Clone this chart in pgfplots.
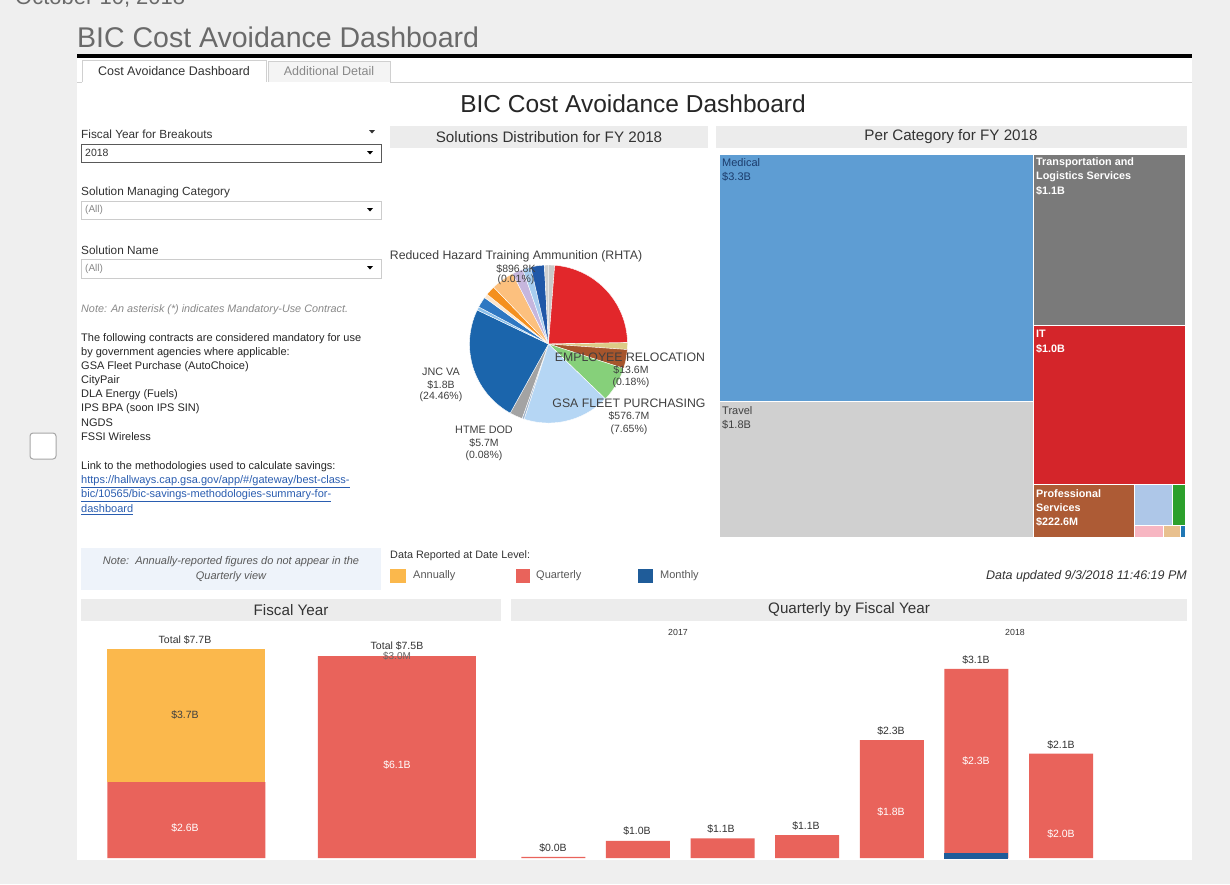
\documentclass[border=0pt]{standalone}
\usepackage{fontspec}
\setmainfont{Liberation Sans}
\usepackage{pgfplots}
\pgfplotsset{compat=1.18}
\newcommand{\fs}[1]{\fontsize{#1}{#1}\selectfont}
\definecolor{bgout}{HTML}{EFEFEF}
\definecolor{hdr}{HTML}{ECECEC}
\definecolor{titlegray}{HTML}{6A6A6A}
\definecolor{txt}{HTML}{333333}
\definecolor{lighttxt}{HTML}{888888}
\definecolor{linkblue}{HTML}{2A5DB0}
\definecolor{notebg}{HTML}{EEF3FA}
\definecolor{tabborder}{HTML}{D0D0D0}
\definecolor{tabinactive}{HTML}{F4F4F4}
\definecolor{annual}{HTML}{FBB84C}
\definecolor{qred}{HTML}{E9635B}
\definecolor{mblue}{HTML}{1F5C99}
\definecolor{medblue}{HTML}{5E9DD3}
\definecolor{travel}{HTML}{D0D0D0}
\definecolor{transp}{HTML}{7A7A7A}
\definecolor{itred}{HTML}{D4252A}
\definecolor{prof}{HTML}{AD5B35}
\definecolor{tlblue}{HTML}{AEC7E8}
\definecolor{tgreen}{HTML}{2CA02C}
\definecolor{tpink}{HTML}{F7B6C2}
\definecolor{ttan}{HTML}{E8C08E}
\definecolor{tdblue}{HTML}{1F77B4}
\definecolor{mednavy}{HTML}{1C3C6C}
% pie colours
\definecolor{pA}{HTML}{C9C9C9}
\definecolor{pB}{HTML}{E2272B}
\definecolor{pC}{HTML}{DCCB86}
\definecolor{pD}{HTML}{A6552C}
\definecolor{pE}{HTML}{86D07A}
\definecolor{pF}{HTML}{B5D6F4}
\definecolor{pG}{HTML}{9FB4CC}
\definecolor{pH}{HTML}{A3A3A3}
\definecolor{pI}{HTML}{1B65AC}
\definecolor{pJ}{HTML}{8CC0EA}
\definecolor{pK}{HTML}{2F78C2}
\definecolor{pL}{HTML}{FDE6CC}
\definecolor{pM}{HTML}{F4901F}
\definecolor{pN}{HTML}{FCC07E}
\definecolor{pO}{HTML}{C6B6DD}
\definecolor{pP}{HTML}{A8CDEF}
\definecolor{pQ}{HTML}{2058A8}
\definecolor{pR}{HTML}{D0D0D0}
% one pie slice: colour, start angle, end angle (degrees clockwise from 12 o'clock)
\newcommand{\slice}[3]{\addplot[fill=#1, draw=white, line width=0.4pt, domain=#2:#3, samples=40, variable=\t] ({sin(\t)},{cos(\t)}) -- (axis cs:0,0) -- cycle;}
\tikzset{px/.style={x=1pt,y=1pt}}
\begin{document}
\begin{tikzpicture}
\begin{scope}[px]
\useasboundingbox (0,0) rectangle (1230,-884);
\fill[bgout] (0,0) rectangle (1230,-884);
\node[anchor=base west, inner sep=0, text=titlegray] at (15,-4) {\fs{22}October 10, 2018};
\fill[white] (77,-58) rectangle (1192,-860);
% title
\node[anchor=base west, inner sep=0, text=titlegray] at (77,-47) {\fs{28.5}BIC Cost Avoidance Dashboard};
\fill[black] (77,-54) rectangle (1192,-57.5);
% tabs
\draw[tabborder] (77,-82) -- (82,-82);
\draw[tabborder, fill=white] (82,-82) -- (82,-60) -- (266,-60) -- (266,-82);
\node[text=txt] at (174,-71) {\fs{12.5}Cost Avoidance Dashboard};
\draw[tabborder, fill=tabinactive] (268,-82) -- (268,-61) -- (390,-61) -- (390,-82);
\node[text=lighttxt] at (329,-71) {\fs{12.5}Additional Detail};
\draw[tabborder] (390,-82) -- (1192,-82);
% checkbox
\draw[gray!70, fill=white, rounded corners=3pt, line width=1pt] (30,-433) rectangle (56,-459);
% inner title
\node[text=black!85] at (633,-104) {\fs{24.5}BIC Cost Avoidance Dashboard};
% filters
\node[anchor=west, inner sep=0, text=txt] at (81,-134) {\fs{11.8}Fiscal Year for Breakouts};
\fill[txt] (369,-130) -- (375,-130) -- (372,-133.5) -- cycle;
\draw[black!65, fill=white] (81,-144) rectangle (381,-162);
\node[anchor=west, inner sep=0, text=txt] at (85,-153) {\fs{10.5}2018};
\fill[black] (367,-151) -- (373,-151) -- (370,-154.5) -- cycle;
\node[anchor=west, inner sep=0, text=txt] at (81,-192) {\fs{11.8}Solution Managing Category};
\draw[black!20, fill=white] (81,-201) rectangle (381,-219);
\node[anchor=west, inner sep=0, text=lighttxt] at (85,-210) {\fs{10}(All)};
\fill[black] (367,-208) -- (373,-208) -- (370,-211.5) -- cycle;
\node[anchor=west, inner sep=0, text=txt] at (81,-250) {\fs{11.8}Solution Name};
\draw[black!20, fill=white] (81,-259) rectangle (381,-278);
\node[anchor=west, inner sep=0, text=lighttxt] at (85,-268.5) {\fs{10}(All)};
\fill[black] (367,-266) -- (373,-266) -- (370,-269.5) -- cycle;
\node[anchor=west, inner sep=0, text=lighttxt] at (81,-310) {\fs{10.8}\itshape Note: An asterisk (*) indicates Mandatory-Use Contract.};
\begin{scope}[every node/.style={anchor=west, inner sep=0, text=black!85}]
\node at (81,-339) {\fs{11}The following contracts are considered mandatory for use};
\node at (81,-353) {\fs{11}by government agencies where applicable:};
\node at (81,-367) {\fs{11}GSA Fleet Purchase (AutoChoice)};
\node at (81,-381) {\fs{11}CityPair};
\node at (81,-395) {\fs{11}DLA Energy (Fuels)};
\node at (81,-409) {\fs{11}IPS BPA (soon IPS SIN)};
\node at (81,-423) {\fs{11}NGDS};
\node at (81,-437) {\fs{11}FSSI Wireless};
\node at (81,-467) {\fs{11}Link to the methodologies used to calculate savings:};
\node[text=linkblue] at (81,-482) {\fs{11}\underline{https://hallways.cap.gsa.gov/app/\#/gateway/best-class-}};
\node[text=linkblue] at (81,-496) {\fs{11}\underline{bic/10565/bic-savings-methodologies-summary-for-}};
\node[text=linkblue] at (81,-510) {\fs{11}\underline{dashboard}};
\end{scope}
\fill[notebg] (81,-548) rectangle (381,-590);
\node[text=black!65] at (231,-562) {\fs{11}\itshape Note:\ \ Annually-reported figures do not appear in the};
\node[text=black!65] at (231,-577) {\fs{11}\itshape Quarterly view};
% headers
\fill[hdr] (390,-126) rectangle (708,-148);
\node[text=txt] at (549,-137) {\fs{15.2}Solutions Distribution for FY 2018};
\fill[hdr] (716,-126) rectangle (1187,-148);
\node[text=txt] at (951,-137) {\fs{15.2}Per Category for FY 2018};
\fill[hdr] (81,-599) rectangle (501,-621);
\node[text=txt] at (291,-610) {\fs{15.2}Fiscal Year};
\fill[hdr] (511,-599) rectangle (1187,-621);
\node[text=txt] at (849,-610) {\fs{15.2}Quarterly by Fiscal Year};
\node[text=txt] at (678,-632) {\fs{8.8}2017};
\node[text=txt] at (1015,-632) {\fs{8.8}2018};
% legend
\node[anchor=west, inner sep=0, text=txt] at (390,-556) {\fs{10.8}Data Reported at Date Level:};
\fill[annual] (390,-569) rectangle (406,-583);
\node[anchor=west, inner sep=0, text=black!65] at (413,-576) {\fs{11}Annually};
\fill[qred] (516,-569) rectangle (530,-583);
\node[anchor=west, inner sep=0, text=black!65] at (536,-576) {\fs{11}Quarterly};
\fill[mblue] (638,-569) rectangle (653,-583);
\node[anchor=west, inner sep=0, text=black!65] at (660,-576) {\fs{11}Monthly};
\node[anchor=east, inner sep=0, text=txt] at (1187,-576) {\fs{12.5}\itshape Data updated 9/3/2018 11:46:19 PM};
\end{scope}

% ---------------- pie ----------------
\begin{axis}[at={(469.5pt,-423pt)}, anchor=south west, width=158pt, height=158pt, scale only axis,
  hide axis, xmin=-1, xmax=1, ymin=-1, ymax=1, clip=false]
\slice{pA}{0}{4.5}
\slice{pB}{4.5}{89}
\slice{pC}{89}{94}
\slice{pD}{94}{108}
\slice{pE}{108}{134}
\slice{pF}{134}{198}
\slice{pG}{198}{199.5}
\slice{pH}{199.5}{209}
\slice{pI}{209}{295.5}
\slice{pJ}{295.5}{298}
\slice{pK}{298}{306}
\slice{pL}{306}{309}
\slice{pM}{309}{316}
\slice{pN}{316}{333}
\slice{pO}{333}{341}
\slice{pP}{341}{347}
\slice{pQ}{347}{357}
\slice{pR}{357}{360}
\end{axis}
\begin{scope}[px, every node/.style={text=black!75, inner sep=0}]
\node at (516,-256) {\fs{12.3}Reduced Hazard Training Ammunition (RHTA)};
\node at (516,-268.5) {\fs{10.5}\$896.8K};
\node at (516,-280) {\fs{10.5}(0.01\%)};
\node at (630,-357) {\fs{12.3}EMPLOYEE RELOCATION};
\node at (631,-370) {\fs{10.5}\$13.6M};
\node at (631,-383) {\fs{10.5}(0.18\%)};
\node at (629,-403) {\fs{12.3}GSA FLEET PURCHASING};
\node at (629,-416) {\fs{10.5}\$576.7M};
\node at (629,-430) {\fs{10.5}(7.65\%)};
\node at (441,-372) {\fs{10.8}JNC VA};
\node at (441,-385) {\fs{10.5}\$1.8B};
\node at (441,-397) {\fs{10.5}(24.46\%)};
\node at (484,-430) {\fs{10.8}HTME DOD};
\node at (484,-443) {\fs{10.5}\$5.7M};
\node at (484,-456) {\fs{10.5}(0.08\%)};
\end{scope}

% ---------------- treemap ----------------
\begin{axis}[at={(719pt,-537pt)}, anchor=south west, width=466pt, height=383pt, scale only axis,
  hide axis, xmin=0, xmax=466, ymin=0, ymax=383, clip=false]
\addplot[fill=medblue, draw=white, line width=1pt] coordinates {(0,136) (314,136) (314,383) (0,383)} -- cycle;
\addplot[fill=travel, draw=white, line width=1pt] coordinates {(0,0) (314,0) (314,136) (0,136)} -- cycle;
\addplot[fill=transp, draw=white, line width=1pt] coordinates {(314,212) (466,212) (466,383) (314,383)} -- cycle;
\addplot[fill=itred, draw=white, line width=1pt] coordinates {(314,53) (466,53) (466,212) (314,212)} -- cycle;
\addplot[fill=prof, draw=white, line width=1pt] coordinates {(314,0) (415,0) (415,53) (314,53)} -- cycle;
\addplot[fill=tlblue, draw=white, line width=0.6pt] coordinates {(415,12) (453,12) (453,53) (415,53)} -- cycle;
\addplot[fill=tgreen, draw=white, line width=0.6pt] coordinates {(453,12) (466,12) (466,53) (453,53)} -- cycle;
\addplot[fill=tpink, draw=white, line width=0.6pt] coordinates {(415,0) (444,0) (444,12) (415,12)} -- cycle;
\addplot[fill=ttan, draw=white, line width=0.6pt] coordinates {(444,0) (461,0) (461,12) (444,12)} -- cycle;
\addplot[fill=tdblue, draw=white, line width=0.6pt] coordinates {(461,0) (466,0) (466,12) (461,12)} -- cycle;
\end{axis}
\begin{scope}[px, every node/.style={anchor=west, inner sep=0}]
\node[text=mednavy] at (722,-163) {\fs{11}Medical};
\node[text=mednavy] at (722,-177) {\fs{11}\$3.3B};
\node[text=black!75] at (722,-411) {\fs{11}Travel};
\node[text=black!75] at (722,-425) {\fs{11}\$1.8B};
\node[text=white] at (1036,-163) {\fs{10.8}\bfseries Transportation and};
\node[text=white] at (1036,-177) {\fs{10.8}\bfseries Logistics Services};
\node[text=white] at (1036,-191) {\fs{10.8}\bfseries \$1.1B};
\node[text=white] at (1036,-334) {\fs{10.8}\bfseries IT};
\node[text=white] at (1036,-349) {\fs{10.8}\bfseries \$1.0B};
\node[text=white] at (1036,-494) {\fs{10.8}\bfseries Professional};
\node[text=white] at (1036,-508) {\fs{10.8}\bfseries Services};
\node[text=white] at (1036,-522) {\fs{10.8}\bfseries \$222.6M};
\end{scope}

% ---------------- fiscal year ----------------
\begin{axis}[at={(81pt,-858pt)}, anchor=south west, width=421pt, height=228pt, scale only axis,
  hide axis, xmin=-0.5, xmax=1.5, ymin=1.89, ymax=8.22, ybar stacked, bar width=158pt]
\addplot[fill=qred, draw=none] coordinates {(0,4.0) (1,7.497)};
\addplot[fill=mblue, draw=none] coordinates {(0,0) (1,0.003)};
\addplot[fill=annual, draw=none] coordinates {(0,3.7) (1,0)};
\end{axis}
\begin{scope}[px, every node/.style={inner sep=0}]
\node[text=black!80] at (185,-640) {\fs{10.5}Total \$7.7B};
\node[text=black!80] at (397,-646) {\fs{10.5}Total \$7.5B};
\node[text=black!60] at (397,-656) {\fs{10}\$3.0M};
\node[text=black!75] at (185,-715) {\fs{10.5}\$3.7B};
\node[text=white] at (185,-828) {\fs{10.5}\$2.6B};
\node[text=white] at (397,-765) {\fs{10.5}\$6.1B};
\end{scope}

% ---------------- quarterly ----------------
\begin{axis}[at={(511pt,-858pt)}, anchor=south west, width=677pt, height=218pt, scale only axis,
  hide axis, xmin=-0.5, xmax=7.5, ymin=0.775, ymax=3.5]
\addplot[ybar, bar width=64pt, bar shift=0pt, fill=qred, draw=none] coordinates {(0,0.79) (1,0.99) (2,1.02) (3,1.06) (4,2.25) (5,3.14) (6,2.08)};
\addplot[fill=mblue, draw=none] coordinates {(4.622,0.70) (5.378,0.70) (5.378,0.8375) (4.622,0.8375)} -- cycle;
\end{axis}
\begin{scope}[px, every node/.style={inner sep=0}]
\node[text=black!80] at (553,-848) {\fs{10.5}\$0.0B};
\node[text=black!80] at (637,-831) {\fs{10.5}\$1.0B};
\node[text=black!80] at (721,-829) {\fs{10.5}\$1.1B};
\node[text=black!80] at (806,-826) {\fs{10.5}\$1.1B};
\node[text=black!80] at (891,-731) {\fs{10.5}\$2.3B};
\node[text=black!80] at (976,-660) {\fs{10.5}\$3.1B};
\node[text=black!80] at (1061,-745) {\fs{10.5}\$2.1B};
\node[text=white] at (891,-812) {\fs{10.5}\$1.8B};
\node[text=white] at (976,-761) {\fs{10.5}\$2.3B};
\node[text=white] at (1061,-834) {\fs{10.5}\$2.0B};
\end{scope}
\end{tikzpicture}
\end{document}
